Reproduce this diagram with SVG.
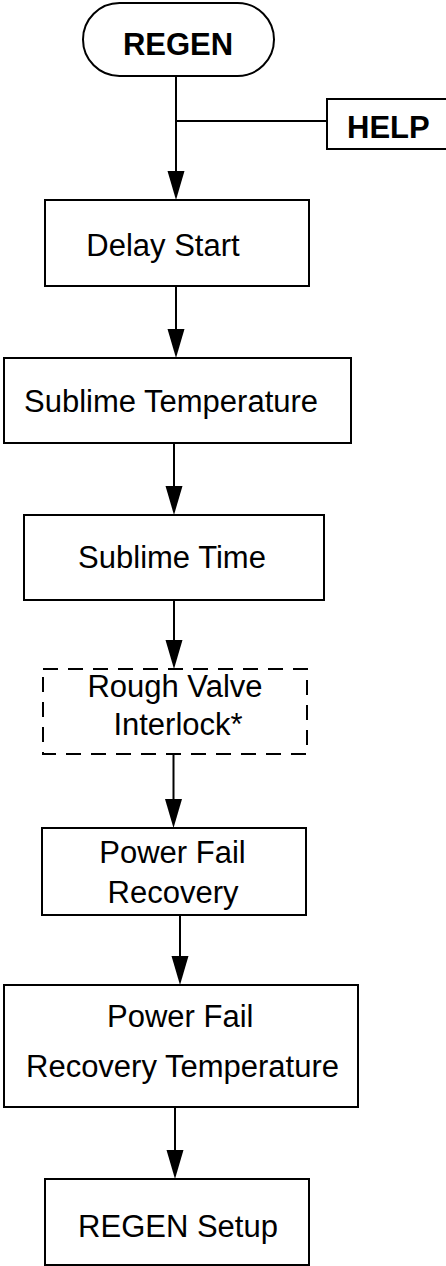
<svg xmlns="http://www.w3.org/2000/svg" width="446" height="1266" viewBox="0 0 446 1266">
<style>
.box{fill:#fff;stroke:#000;stroke-width:2}
.dash{fill:#fff;stroke:#000;stroke-width:2;stroke-dasharray:15 10}
.t{font-family:"Liberation Sans",Arial,sans-serif;font-size:31px;fill:#000}
.b{font-weight:bold}
.c{text-anchor:middle}
.ln{stroke:#000;stroke-width:2;fill:none}
.ah{fill:#000}
</style>
<rect width="446" height="1266" fill="#fff"/>
<g id="connectors">
<line class="ln" x1="176" y1="76" x2="176" y2="175"/>
<polygon class="ah" points="167.5,171 184.5,171 176,200"/>
<line class="ln" x1="176" y1="121" x2="327" y2="121"/>
<line class="ln" x1="176" y1="286" x2="176" y2="333"/>
<polygon class="ah" points="167.5,329 184.5,329 176,358"/>
<line class="ln" x1="174" y1="443" x2="174" y2="490"/>
<polygon class="ah" points="165.5,486 182.5,486 174,515"/>
<line class="ln" x1="174" y1="600" x2="174" y2="644"/>
<polygon class="ah" points="165.5,640 182.5,640 174,669"/>
<line class="ln" x1="173.5" y1="754" x2="173.5" y2="803"/>
<polygon class="ah" points="165,799 182,799 173.5,828"/>
<line class="ln" x1="180" y1="916" x2="180" y2="960"/>
<polygon class="ah" points="171.5,956 188.5,956 180,985"/>
<line class="ln" x1="175" y1="1107" x2="175" y2="1154"/>
<polygon class="ah" points="166.5,1150 183.5,1150 175,1179"/>
</g>
<g id="regen">
<rect class="box" x="83" y="3" width="191" height="73" rx="36.5"/>
<text class="t b c" x="178" y="55">REGEN</text>
</g>
<g id="help">
<path class="box" d="M447,99 H327 V149 H447"/>
<text class="t b" x="347" y="138">HELP</text>
</g>
<g id="delay-start">
<rect class="box" x="45" y="200" width="264" height="86"/>
<text class="t c" x="163" y="256">Delay Start</text>
</g>
<g id="sublime-temperature">
<rect class="box" x="4" y="358" width="347" height="85"/>
<text class="t" x="24" y="412">Sublime Temperature</text>
</g>
<g id="sublime-time">
<rect class="box" x="24" y="515" width="300" height="85"/>
<text class="t c" x="172" y="568">Sublime Time</text>
</g>
<g id="rough-valve-interlock">
<rect class="dash" x="43" y="669" width="264" height="85"/>
<text class="t c" x="175" y="697">Rough Valve</text>
<text class="t c" x="178" y="735">Interlock*</text>
</g>
<g id="power-fail-recovery">
<rect class="box" x="42" y="828" width="264" height="87"/>
<text class="t c" x="172.5" y="863">Power Fail</text>
<text class="t c" x="173" y="903">Recovery</text>
</g>
<g id="power-fail-recovery-temperature">
<rect class="box" x="4" y="985" width="354" height="122"/>
<text class="t" x="107" y="1027">Power Fail</text>
<text class="t" x="26" y="1077">Recovery Temperature</text>
</g>
<g id="regen-setup">
<rect class="box" x="45" y="1179" width="264" height="86"/>
<text class="t c" x="178" y="1237">REGEN Setup</text>
</g>
</svg>
